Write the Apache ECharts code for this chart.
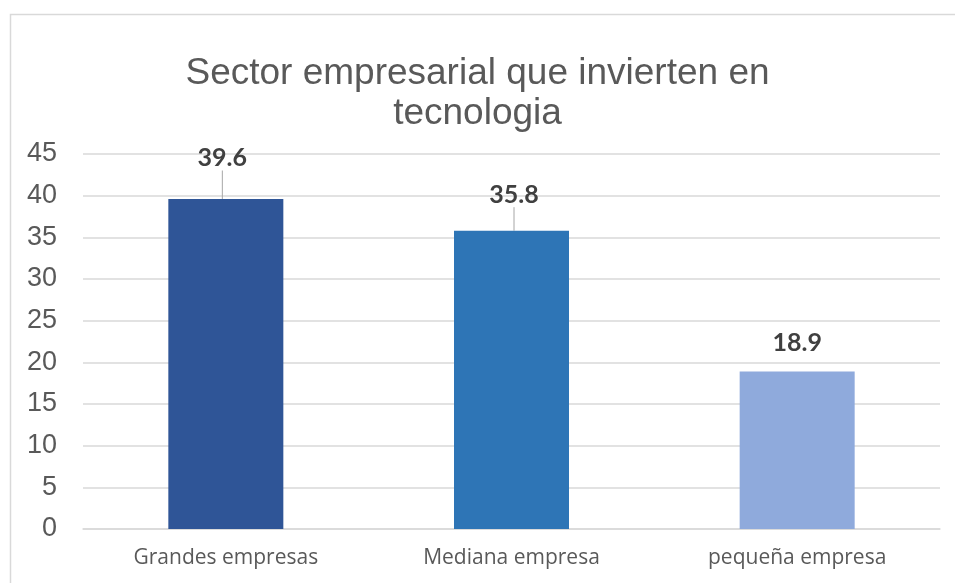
<!DOCTYPE html>
<html>
<head>
<meta charset="utf-8">
<script src="https://cdn.jsdelivr.net/npm/echarts@6/dist/echarts.min.js"></script>
<style>
  html, body { margin: 0; padding: 0; background: #ffffff; }
  #chart { width: 955px; height: 583px; }
</style>
</head>
<body>
<div id="chart"></div>
<script>
// Share of companies investing in technology, by company size
const categories = ['Grandes empresas', 'Mediana empresa', 'pequeña empresa'];
const values = [39.6, 35.8, 18.9];
const barColors = ['#2F5597', '#2E75B6', '#8FAADC'];
const titleText = 'Sector empresarial que invierten en\ntecnologia';

// Value labels that were nudged off their bar keep a leader line back to it
const labelShift = [[-3.5, -12], [2.5, -7], null];

const chart = echarts.init(document.getElementById('chart'), null, { renderer: 'canvas' });

chart.setOption({
  backgroundColor: '#ffffff',
  animation: false,
  title: {
    text: titleText,
    left: 'center',
    top: 49,
    padding: [5, 16, 5, 5],
    textStyle: {
      fontFamily: 'Liberation Sans, Arial, sans-serif',
      fontSize: 37,
      fontWeight: 'normal',
      color: '#595959',
      lineHeight: 40
    }
  },
  graphic: [{
    type: 'rect',
    shape: { x: 10.5, y: 14.5, width: 960, height: 600 },
    style: { fill: 'none', stroke: '#d9d9d9', lineWidth: 1.5 },
    silent: true,
    z: -1
  }],
  grid: {
    left: 83,
    right: 15,
    top: 154,
    bottom: 54,
    containLabel: false
  },
  xAxis: {
    type: 'category',
    data: categories,
    axisLine: { show: true, lineStyle: { color: '#d9d9d9', width: 1.5 } },
    axisTick: { show: false },
    axisLabel: {
      fontFamily: 'Open Sans, sans-serif',
      fontSize: 21,
      color: '#595959',
      margin: 19
    }
  },
  yAxis: {
    type: 'value',
    min: 0,
    max: 45,
    interval: 5,
    axisLine: { show: false },
    axisTick: { show: false },
    splitLine: { lineStyle: { color: '#d9d9d9', width: 1.5 } },
    axisLabel: {
      fontFamily: 'Liberation Sans, Arial, sans-serif',
      fontSize: 27,
      color: '#595959',
      margin: 26
    }
  },
  series: [{
    type: 'bar',
    barWidth: 115,
    data: values.map((v, i) => ({
      value: v,
      itemStyle: { color: barColors[i] },
      labelLine: { show: labelShift[i] !== null }
    })),
    label: {
      show: true,
      position: 'top',
      distance: 8.5,
      padding: [0, 0, 8, 0],
      fontFamily: 'Lato, Open Sans, sans-serif',
      fontWeight: 'bold',
      fontSize: 25,
      color: '#404040'
    },
    labelLine: {
      show: true,
      lineStyle: { color: '#a6a6a6', width: 1 }
    },
    labelLayout: function (params) {
      const s = labelShift[params.dataIndex];
      return s ? { dx: s[0], dy: s[1] } : {};
    }
  }]
});
</script>
</body>
</html>
